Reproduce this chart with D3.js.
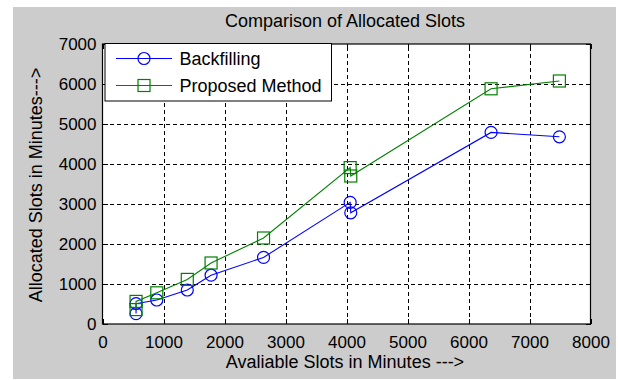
<!DOCTYPE html>
<html>
<head>
<meta charset="utf-8">
<script src="https://cdn.jsdelivr.net/npm/d3@7"></script>
<style>
  html, body { margin: 0; padding: 0; background: #ffffff; }
  svg { display: block; font-family: "Liberation Sans", Arial, sans-serif; }
</style>
</head>
<body>
<svg id="chart" width="618" height="380"></svg>
<script>
// Available slots (minutes) at each measurement
const availableSlots = [550, 550, 890, 1390, 1780, 2640, 4060, 4070, 6370, 7490];
// Allocated slots (minutes) per method
const backfilling    = [260, 510, 600, 850, 1220, 1665, 3040, 2780, 4790, 4680];
const proposedMethod = [360, 565, 780, 1115, 1525, 2150, 3910, 3700, 5880, 6075];
const xTicks = [0, 1000, 2000, 3000, 4000, 5000, 6000, 7000, 8000];
const yTicks = [0, 1000, 2000, 3000, 4000, 5000, 6000, 7000];
const seriesNames = ["Backfilling", "Proposed Method"];

const svg = d3.select("#chart");
const plot = { left: 102.5, right: 590.5, top: 44, bottom: 324 };

// figure background
svg.append("rect").attr("x", 13).attr("y", 7).attr("width", 603).attr("height", 372)
  .attr("fill", "#cccccc");

const x = d3.scaleLinear().domain([0, 8000]).range([plot.left, plot.right]);
const y = d3.scaleLinear().domain([0, 7000]).range([plot.bottom, plot.top]);

// axes area
svg.append("rect").attr("x", plot.left).attr("y", plot.top)
  .attr("width", plot.right - plot.left).attr("height", plot.bottom - plot.top)
  .attr("fill", "#ffffff");

// grid
const grid = svg.append("g").attr("stroke", "#000").attr("stroke-width", 1)
  .attr("stroke-dasharray", "4,3").attr("shape-rendering", "crispEdges");
xTicks.slice(1, -1).forEach(v => grid.append("line")
  .attr("x1", Math.round(x(v)) + 0.5).attr("x2", Math.round(x(v)) + 0.5)
  .attr("y1", plot.bottom).attr("y2", plot.top));
yTicks.slice(1, -1).forEach(v => grid.append("line")
  .attr("x1", plot.left).attr("x2", plot.right)
  .attr("y1", Math.round(y(v)) + 0.5).attr("y2", Math.round(y(v)) + 0.5));

// axes with inward ticks
const fontSize = 17;
const gx = svg.append("g").attr("transform", `translate(0,${plot.bottom})`)
  .call(d3.axisBottom(x).tickValues(xTicks).tickFormat(d3.format("d")).tickSizeInner(-5).tickSizeOuter(0).tickPadding(12));
const gy = svg.append("g").attr("transform", `translate(${plot.left},0)`)
  .call(d3.axisLeft(y).tickValues(yTicks).tickFormat(d3.format("d")).tickSizeInner(-5).tickSizeOuter(0).tickPadding(6));
const gxt = svg.append("g").attr("transform", `translate(0,${plot.top})`)
  .call(d3.axisTop(x).tickValues(xTicks).tickFormat("").tickSizeInner(-5).tickSizeOuter(0));
const gyr = svg.append("g").attr("transform", `translate(${plot.right},0)`)
  .call(d3.axisRight(y).tickValues(yTicks).tickFormat("").tickSizeInner(-5).tickSizeOuter(0));
[gx, gy, gxt, gyr].forEach(g => {
  g.select(".domain").remove();
  g.selectAll("line").attr("stroke", "#000").attr("shape-rendering", "crispEdges");
  g.selectAll("text").attr("font-size", fontSize).attr("fill", "#000")
    .attr("font-family", "'Liberation Sans', Arial, sans-serif");
});

// axes box
svg.append("rect").attr("x", plot.left).attr("y", plot.top)
  .attr("width", plot.right - plot.left).attr("height", plot.bottom - plot.top)
  .attr("fill", "none").attr("stroke", "#000").attr("stroke-width", 1.2);

// series
const series = [
  { name: seriesNames[0], values: backfilling, color: "#0000ff", marker: "circle" },
  { name: seriesNames[1], values: proposedMethod, color: "#008000", marker: "square" }
];
const line = d3.line().x(d => x(d[0])).y(d => y(d[1]));

function drawMarker(g, cx, cy, kind, color) {
  if (kind === "circle") {
    g.append("circle").attr("cx", cx).attr("cy", cy).attr("r", 6)
      .attr("fill", "none").attr("stroke", color).attr("stroke-width", 1.2);
  } else {
    g.append("rect").attr("x", cx - 6).attr("y", cy - 6).attr("width", 12).attr("height", 12)
      .attr("fill", "none").attr("stroke", color).attr("stroke-width", 1.2);
  }
}

series.forEach(s => {
  const pts = availableSlots.map((v, i) => [v, s.values[i]]);
  const g = svg.append("g");
  g.append("path").attr("d", line(pts)).attr("fill", "none")
    .attr("stroke", s.color).attr("stroke-width", 1.1);
  pts.forEach(p => drawMarker(g, x(p[0]), y(p[1]), s.marker, s.color));
});

// legend
const lg = svg.append("g");
lg.append("rect").attr("x", 105).attr("y", 43.5).attr("width", 226.5).attr("height", 57.5)
  .attr("fill", "#fff").attr("stroke", "#000").attr("stroke-width", 1);
series.forEach((s, i) => {
  const ly = 58.5 + i * 27;
  lg.append("line").attr("x1", 116).attr("x2", 172).attr("y1", ly).attr("y2", ly)
    .attr("stroke", s.color).attr("stroke-width", 1.1);
  drawMarker(lg, 144, ly, s.marker, s.color);
  lg.append("text").attr("x", 179.5).attr("y", ly + 6.5).attr("font-size", 18)
    .attr("fill", "#000").text(s.name);
});

// title and axis labels
svg.append("text").attr("x", 345).attr("y", 27).attr("text-anchor", "middle")
  .attr("font-size", 18).attr("fill", "#000").text("Comparison of Allocated Slots");
svg.append("text").attr("x", 345).attr("y", 368).attr("text-anchor", "middle")
  .attr("font-size", 18).attr("fill", "#000").text("Avaliable Slots in Minutes --->");
svg.append("text").attr("transform", "translate(42,185) rotate(-90)").attr("text-anchor", "middle")
  .attr("font-size", 18).attr("fill", "#000").text("Allocated Slots in Minutes--->");
</script>
</body>
</html>
